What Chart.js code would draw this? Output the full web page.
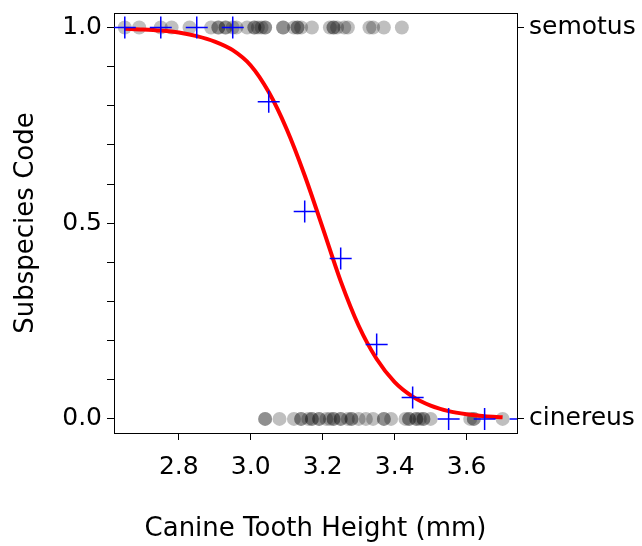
<!DOCTYPE html>
<html>
<head>
<meta charset="utf-8">
<script src="https://cdn.jsdelivr.net/npm/chart.js@4.4.1/dist/chart.umd.min.js"></script>
<style>
  html, body { margin: 0; padding: 0; background: #fff; }
</style>
</head>
<body>
<canvas id="chart" width="642" height="546"></canvas>
<script>
// gray points: individual animals, semotus (code 1) and cinereus (code 0)
const semotusX = [2.65, 2.69, 2.75, 2.78, 2.83, 2.89, 2.91, 2.91, 2.93, 2.93, 2.95, 2.96,
  2.99, 3.01, 3.01, 3.02, 3.03, 3.04, 3.04, 3.09, 3.09, 3.12, 3.13, 3.13, 3.14, 3.17,
  3.22, 3.23, 3.23, 3.24, 3.26, 3.27, 3.33, 3.34, 3.37, 3.42];
const cinereusX = [3.04, 3.04, 3.08, 3.12, 3.14, 3.14, 3.16, 3.17, 3.17, 3.19, 3.19,
  3.21, 3.22, 3.23, 3.23, 3.25, 3.25, 3.27, 3.28, 3.28, 3.30, 3.32, 3.34, 3.37, 3.37,
  3.39, 3.43, 3.44, 3.44, 3.46, 3.46, 3.47, 3.48, 3.48, 3.50, 3.61, 3.62, 3.62, 3.70];

// blue crosses: proportion semotus in each 0.1 mm bin
const binX = [2.65, 2.75, 2.85, 2.95, 3.05, 3.15, 3.25, 3.35, 3.45, 3.55, 3.65, 3.75];
const binY = [1, 1, 1, 1, 0.81, 0.53, 0.41, 0.19, 0.055, 0, 0, 0];

// red fitted curve
const curveX = [2.65, 2.70, 2.75, 2.80, 2.85, 2.90, 2.95, 3.00, 3.05, 3.10, 3.15,
  3.20, 3.25, 3.30, 3.35, 3.40, 3.45, 3.50, 3.55, 3.60, 3.65, 3.70];
const curveY = [0.997, 0.995, 0.992, 0.987, 0.978, 0.964, 0.942, 0.903, 0.835, 0.740, 0.622,
  0.488, 0.352, 0.238, 0.153, 0.094, 0.057, 0.034, 0.020, 0.012, 0.007, 0.004];

const xTicks = [2.8, 3.0, 3.2, 3.4, 3.6];
const yTicks = [0, 0.1, 0.2, 0.3, 0.4, 0.5, 0.6, 0.7, 0.8, 0.9, 1];
const yLabels = [0, 0.5, 1];
const sideTicks = [0, 1];
const sideLabels = ['cinereus', 'semotus'];

const toPts = (xs, ys) => xs.map((x, i) => ({ x: x, y: ys[i] }));

Chart.defaults.font.family = 'DejaVu Sans';
Chart.defaults.font.size = 25;
Chart.defaults.color = '#000';

const frame = { color: '#000', width: 1 };

// fixed box sizes so the plot area sits where the reference has it
const fixBox = (w, h) => s => {
  if (w !== null) s.width = w;
  if (h !== null) s.height = h;
  s.paddingTop = 0; s.paddingBottom = 0; s.paddingLeft = 0; s.paddingRight = 0;
};

new Chart(document.getElementById('chart').getContext('2d'), {
  type: 'scatter',
  data: {
    datasets: [
      {
        label: 'bins',
        data: toPts(binX, binY),
        pointStyle: 'cross',
        pointRadius: 11,
        pointBorderColor: '#0000ff',
        pointBorderWidth: 1.5,
        clip: 0
      },
      {
        label: 'fit',
        type: 'line',
        data: toPts(curveX, curveY),
        borderColor: '#ff0000',
        borderWidth: 4,
        pointRadius: 0,
        cubicInterpolationMode: 'monotone',
        fill: false
      },
      {
        label: 'animals',
        data: toPts(semotusX, semotusX.map(() => 1)).concat(toPts(cinereusX, cinereusX.map(() => 0))),
        pointRadius: 7,
        pointBackgroundColor: 'rgba(0,0,0,0.25)',
        pointBorderWidth: 0
      }
    ]
  },
  options: {
    responsive: false,
    animation: false,
    layout: { padding: 0 },
    plugins: { legend: { display: false }, tooltip: { enabled: false } },
    scales: {
      x: {
        type: 'linear', position: 'bottom', min: 2.62, max: 3.74,
        afterBuildTicks: s => { s.ticks = xTicks.map(v => ({ value: v })); },
        afterFit: fixBox(null, 113),
        ticks: { autoSkip: false, maxRotation: 0, padding: 12, callback: v => v.toFixed(1) },
        grid: { drawOnChartArea: false, tickLength: 7, tickColor: '#000' },
        border: frame,
        title: { display: true, text: 'Canine Tooth Height (mm)', font: { size: 26 },
          padding: { top: 0, bottom: 1 } }
      },
      x2: {
        type: 'linear', position: 'top', min: 2.62, max: 3.74,
        afterFit: fixBox(null, 13),
        ticks: { display: false },
        grid: { drawOnChartArea: false, drawTicks: false },
        border: frame
      },
      y: {
        type: 'linear', position: 'left', min: -0.036, max: 1.037,
        afterBuildTicks: s => { s.ticks = yTicks.map(v => ({ value: v })); },
        afterFit: fixBox(114, null),
        ticks: { autoSkip: false, padding: 5,
          callback: v => yLabels.includes(v) ? v.toFixed(1) : '' },
        grid: { drawOnChartArea: false, tickLength: 7, tickColor: '#000' },
        border: frame,
        title: { display: true, text: 'Subspecies Code', font: { size: 26 },
          padding: { top: 11, bottom: 0 } }
      },
      y2: {
        type: 'linear', position: 'right', min: -0.036, max: 1.037,
        afterBuildTicks: s => { s.ticks = sideTicks.map(v => ({ value: v })); },
        afterFit: fixBox(125, null),
        ticks: { autoSkip: false, padding: 5,
          callback: v => sideLabels[sideTicks.indexOf(v)] },
        grid: { drawOnChartArea: false, tickLength: 7, tickColor: '#000' },
        border: frame
      }
    }
  }
});
</script>
</body>
</html>
